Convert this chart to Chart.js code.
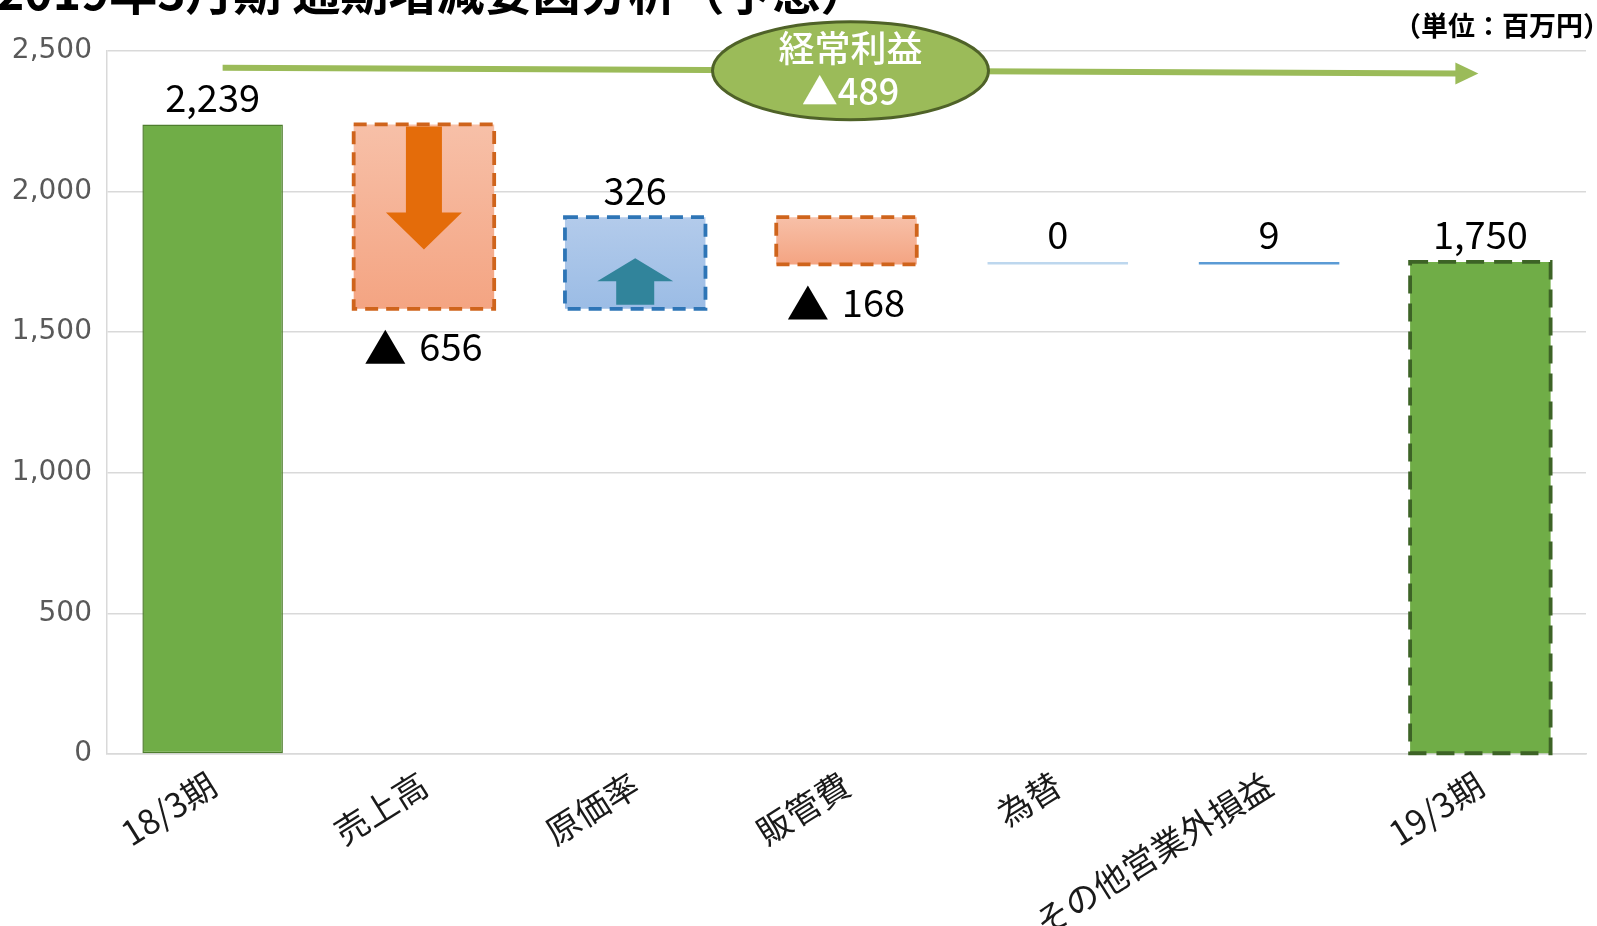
<!DOCTYPE html>
<html>
<head>
<meta charset="utf-8">
<script src="https://cdn.jsdelivr.net/npm/chart.js@4/dist/chart.umd.min.js"></script>
<style>
  html, body { margin: 0; padding: 0; background: #fff; }
  #wrap { width: 1597px; height: 926px; position: relative; }
</style>
</head>
<body>
<div id="wrap"><canvas id="myChart"></canvas></div>
<script>
  // data
  const categories = ["18/3期", "売上高", "原価率", "販管費", "為替", "その他営業外損益", "19/3期"];
  const startProfit = 2239;
  const changes = [-656, 326, -168, 0, 9];
  const endProfit = 1750;
  const yTicks = [0, 500, 1000, 1500, 2000, 2500];

  // floating bars for the waterfall
  const deltas = [startProfit].concat(changes, [endProfit]);
  const ranges = [[0, startProfit]];
  let run = startProfit;
  changes.forEach(d => {
    ranges.push([run, run + d]);
    run += d;
  });
  ranges.push([0, endProfit]);

  const JP = "'Noto Sans CJK JP', 'Noto Sans', sans-serif";

  function grad(ctx, top, bottom) {
    const chart = ctx.chart;
    const y = chart.scales.y;
    if (!chart.chartArea || !y || !Array.isArray(ctx.raw)) return top;
    const r = ctx.raw;
    const y1 = y.getPixelForValue(Math.max(r[0], r[1]));
    const y2 = y.getPixelForValue(Math.min(r[0], r[1]));
    if (!isFinite(y1) || !isFinite(y2) || y1 === y2) return top;
    const g = chart.ctx.createLinearGradient(0, y1, 0, y2);
    g.addColorStop(0, top);
    g.addColorStop(1, bottom);
    return g;
  }

  // per bar: plain colour or [top, bottom] gradient
  const fillStyles = [
    "#70AD47",
    ["#F7C0A8", "#F4A482"],
    ["#B3CBEB", "#9BBCE5"],
    ["#F7C0A8", "#F4A482"],
    "#BDD7EE",
    "#5B9BD5",
    "#70AD47"
  ];
  const dashStyles = [
    null,
    { color: "#CF641C", dash: [13, 8] },
    { color: "#2E75B6", dash: [13, 8] },
    { color: "#CF641C", dash: [13, 8] },
    null,
    null,
    { color: "#3D6326", dash: [18, 10] }
  ];

  // dashed borders, arrows, value labels, ellipse
  const decorPlugin = {
    id: "decor",
    afterDatasetsDraw(chart) {
      const c = chart.ctx;
      const meta = chart.getDatasetMeta(0);
      const ys = chart.scales.y;
      const xs = chart.scales.x;

      meta.data.forEach((bar, i) => {
        const p = bar.getProps(["x", "y", "base", "width"], true);
        const left = p.x - p.width / 2;
        const top = Math.min(p.y, p.base);
        const bottom = Math.max(p.y, p.base);
        const st = dashStyles[i];
        if (st) {
          c.save();
          c.strokeStyle = st.color;
          c.lineWidth = 3.8;
          c.setLineDash(st.dash);
          c.strokeRect(left, top, p.width, bottom - top);
          c.restore();
        }
        // value labels (negatives get a bigger ▲ in front)
        c.save();
        c.fillStyle = "#000";
        c.textBaseline = "middle";
        const v = deltas[i];
        if (v < 0) {
          const num = Math.abs(v).toLocaleString("en-US");
          c.font = "38px " + JP;
          const nw = c.measureText(num).width;
          const tri = 40, gap = 14;
          const x0 = p.x - (tri + gap + nw) / 2;
          const yc = bottom + 38;
          c.beginPath();
          c.moveTo(x0, yc + 17);
          c.lineTo(x0 + tri, yc + 17);
          c.lineTo(x0 + tri / 2, yc - 17);
          c.closePath();
          c.fill();
          c.textAlign = "left";
          c.fillText(num, x0 + tri + gap, yc);
        } else {
          c.font = "38px " + JP;
          c.textAlign = "center";
          c.fillText(v.toLocaleString("en-US"), p.x, top - 27);
        }
        c.restore();
      });

      // down arrow in 売上高 bar
      let b = meta.data[1].getProps(["x", "y", "base", "width"], true);
      let t = Math.min(b.y, b.base);
      c.save();
      c.fillStyle = "#E46C0A";
      c.beginPath();
      c.moveTo(b.x - 18, t + 2);
      c.lineTo(b.x + 18, t + 2);
      c.lineTo(b.x + 18, t + 88);
      c.lineTo(b.x + 38, t + 88);
      c.lineTo(b.x, t + 125);
      c.lineTo(b.x - 38, t + 88);
      c.lineTo(b.x - 18, t + 88);
      c.closePath();
      c.fill();
      c.restore();

      // up arrow in 原価率 bar
      b = meta.data[2].getProps(["x", "y", "base", "width"], true);
      t = Math.min(b.y, b.base);
      const bt = Math.max(b.y, b.base);
      c.save();
      c.fillStyle = "#31849B";
      c.beginPath();
      c.moveTo(b.x, t + 41);
      c.lineTo(b.x + 38, t + 64);
      c.lineTo(b.x + 19, t + 64);
      c.lineTo(b.x + 19, bt - 4);
      c.lineTo(b.x - 19, bt - 4);
      c.lineTo(b.x - 19, t + 64);
      c.lineTo(b.x - 38, t + 64);
      c.closePath();
      c.fill();
      c.restore();

      // green arrow line across the top
      const x0 = xs.getPixelForValue(0) + 10;
      const x1 = xs.getPixelForValue(categories.length - 1) - 2;
      const y0 = ys.getPixelForValue(2440);
      const y1 = ys.getPixelForValue(2420);
      c.save();
      c.strokeStyle = "#9BBB59";
      c.fillStyle = "#9BBB59";
      c.lineWidth = 6;
      c.beginPath();
      c.moveTo(x0, y0);
      c.lineTo(x1 - 20, y1);
      c.stroke();
      c.beginPath();
      c.moveTo(x1, y1);
      c.lineTo(x1 - 23, y1 - 11);
      c.lineTo(x1 - 23, y1 + 11);
      c.closePath();
      c.fill();
      c.restore();

      // ellipse
      const ex = xs.getPixelForValue(3) + 4;
      const ey = ys.getPixelForValue(2430);
      c.save();
      c.beginPath();
      c.ellipse(ex, ey, 138, 49, 0, 0, Math.PI * 2);
      c.fillStyle = "#9BBB59";
      c.fill();
      c.lineWidth = 3;
      c.strokeStyle = "#4F6228";
      c.stroke();
      c.fillStyle = "#fff";
      c.font = "500 36px " + JP;
      c.textAlign = "center";
      c.textBaseline = "middle";
      c.fillText("経常利益", ex, ey - 22);
      c.fillText("▲" + Math.abs(endProfit - startProfit), ex, ey + 21);
      c.restore();
    },
    afterDraw(chart) {
      const c = chart.ctx;
      c.save();
      c.fillStyle = "#000";
      c.font = "bold 48px " + JP;
      c.textAlign = "left";
      c.textBaseline = "alphabetic";
      c.fillText("2019年3月期 通期増減要因分析（予想）", -4, 10);
      c.font = "bold 27px " + JP;
      c.textAlign = "right";
      c.textBaseline = "middle";
      c.fillText("（単位：百万円）", 1610, 26);
      c.restore();
    }
  };

  const config = {
    type: "bar",
    data: {
      labels: categories,
      datasets: [
        {
          label: "経常利益",
          data: ranges,
          backgroundColor: ctx => {
            const f = fillStyles[ctx.dataIndex];
            return Array.isArray(f) ? grad(ctx, f[0], f[1]) : f;
          },
          borderColor: "#4E7D2E",
          borderWidth: [1.5, 0, 0, 0, 0, 0, 0],
          borderSkipped: false,
          barPercentage: 0.665,
          categoryPercentage: 1,
          minBarLength: 2.5
        }
      ]
    },
    options: {
      responsive: true,
      maintainAspectRatio: false,
      animation: false,
      layout: { padding: { top: 51, right: 11, left: 0, bottom: 0 } },
      plugins: {
        legend: { display: false },
        tooltip: { enabled: false },
        title: { display: false }
      },
      scales: {
        x: {
          grid: { display: false, drawTicks: false },
          border: { color: "#D9D9D9", width: 1.5 },
          ticks: {
            color: "#1a1a1a",
            font: { family: JP, size: 34 },
            minRotation: 32,
            maxRotation: 32,
            autoSkip: false,
            padding: 10
          },
          afterFit(s) { s.height = 172; }
        },
        y: {
          min: 0,
          max: 2500,
          grid: { color: "#D9D9D9", lineWidth: 1.5, drawTicks: false },
          border: { color: "#D9D9D9", width: 1.5 },
          ticks: {
            color: "#595959",
            font: { family: "'DejaVu Sans', sans-serif", size: 28 },
            padding: 15,
            callback: v => v.toLocaleString("en-US")
          },
          afterBuildTicks(s) { s.ticks = yTicks.map(v => ({ value: v })); },
          afterFit(s) { s.width = 107; }
        }
      }
    },
    plugins: [decorPlugin]
  };

  var myChart = new Chart(document.getElementById("myChart"), config);
</script>
</body>
</html>
